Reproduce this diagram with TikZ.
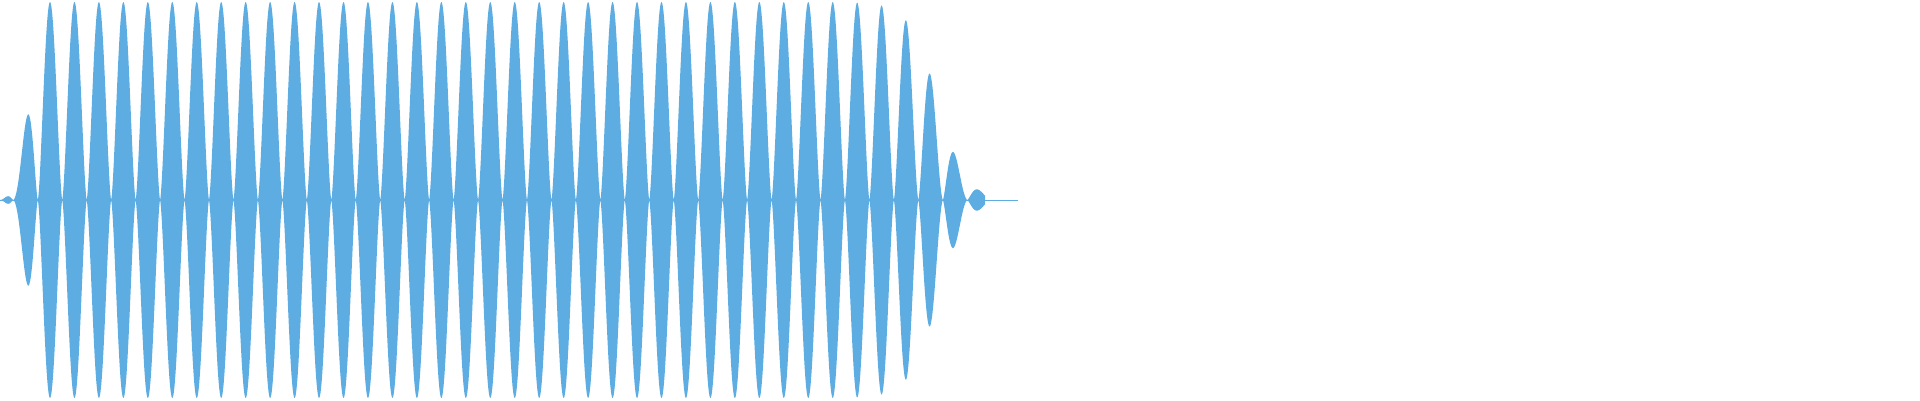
\documentclass[tikz,border=0pt]{standalone}
\definecolor{wave}{RGB}{93,173,226}
\tikzset{declare function={env(\t)=198*min(1,(\t/41)^2)/(1+exp(max(-8,(\t-938)/14)));
  lobe(\t)=abs(cos(7.3590*(\t-50)))*sqrt(abs(cos(7.3590*(\t-50))));}}
\begin{document}
\begin{tikzpicture}[x=1pt,y=1pt]
\useasboundingbox (0,0) rectangle (1920,400);
\fill[wave] plot[domain=0:985,samples=2400,variable=\t]
  ({\t},{200+env(\t)*lobe(\t)})
  -- plot[domain=985:0,samples=2400,variable=\t]
  ({\t},{200-env(\t)*lobe(\t)}) -- cycle;
\coordinate (a) at (0,200);
\coordinate (b) at (1018,200);
\draw[wave,line width=1pt] (a) -- (b);
\end{tikzpicture}
\end{document}
